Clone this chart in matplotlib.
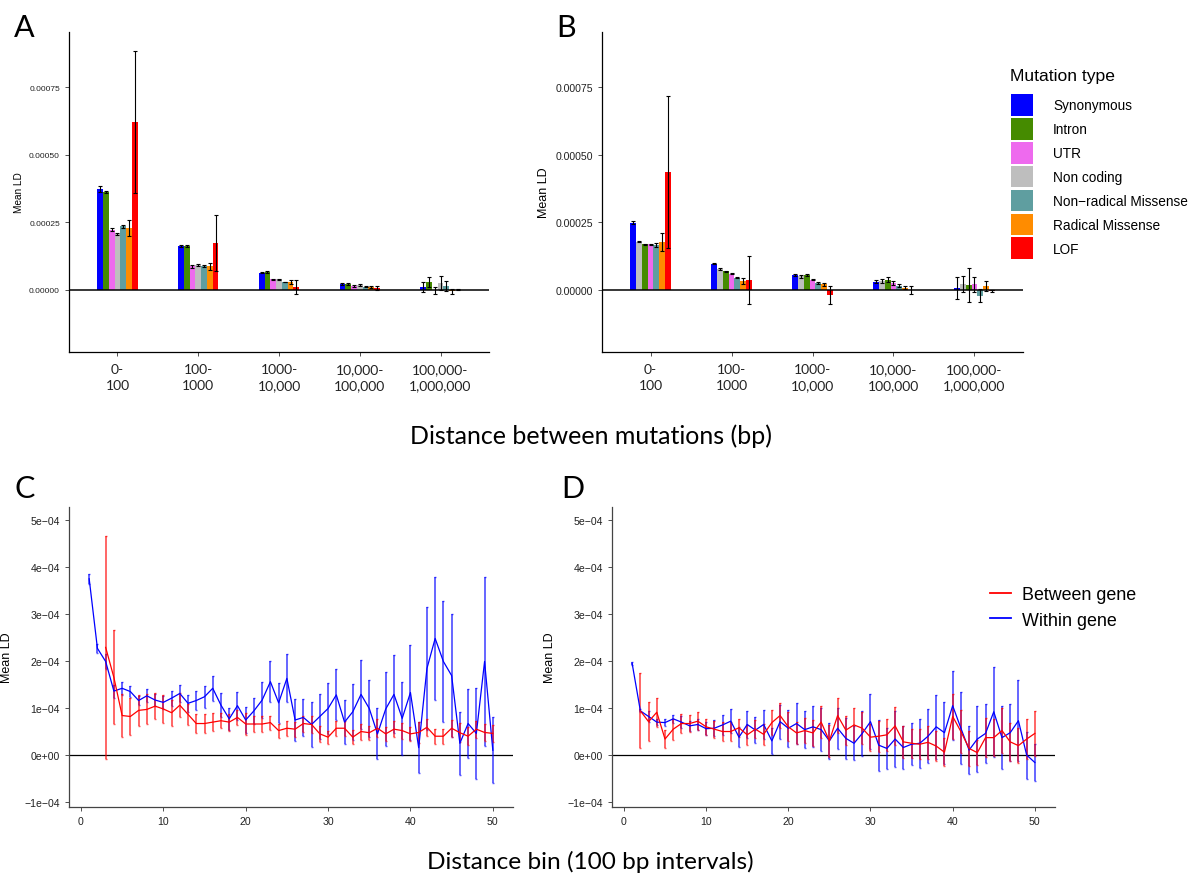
import numpy as np
import matplotlib
matplotlib.use("Agg")
import matplotlib.pyplot as plt
from matplotlib.patches import Patch
from matplotlib.lines import Line2D

# ---------------------------------------------------------------------------
# Data (mean LD)
# ---------------------------------------------------------------------------
DIST_LABELS = ["0-\n100", "100-\n1000", "1000-\n10,000", "10,000-\n100,000", "100,000-\n1,000,000"]

MUT_TYPES = ["Synonymous", "Intron", "UTR", "Non coding",
             "Non\u2212radical Missense", "Radical Missense", "LOF"]
MUT_COLORS = ["#0000FF", "#458B00", "#EE6AEE", "#BEBEBE", "#5F9EA0", "#FF8C00", "#FF0000"]

# panel A (bar order = MUT_TYPES order)
A_MEAN = {
    "Synonymous":  [3.73e-4, 1.62e-4, 0.62e-4, 0.21e-4, 0.10e-4],
    "Intron":      [3.63e-4, 1.62e-4, 0.656e-4, 0.21e-4, 0.285e-4],
    "UTR":         [2.22e-4, 0.87e-4, 0.38e-4, 0.136e-4, -0.025e-4],
    "Non coding":  [2.07e-4, 0.92e-4, 0.38e-4, 0.173e-4, 0.248e-4],
    "Non\u2212radical Missense": [2.35e-4, 0.87e-4, 0.285e-4, 0.111e-4, 0.136e-4],
    "Radical Missense": [2.29e-4, 0.87e-4, 0.285e-4, 0.099e-4, -0.062e-4],
    "LOF":         [6.21e-4, 1.73e-4, 0.099e-4, 0.062e-4, 0.0],
}
A_ERR = {
    "Synonymous":  [0.12e-4, 0.02e-4, 0.02e-4, 0.02e-4, 0.17e-4],
    "Intron":      [0.03e-4, 0.02e-4, 0.02e-4, 0.02e-4, 0.19e-4],
    "UTR":         [0.06e-4, 0.06e-4, 0.02e-4, 0.02e-4, 0.12e-4],
    "Non coding":  [0.03e-4, 0.03e-4, 0.02e-4, 0.02e-4, 0.26e-4],
    "Non\u2212radical Missense": [0.06e-4, 0.03e-4, 0.01e-4, 0.01e-4, 0.17e-4],
    "Radical Missense": [0.31e-4, 0.13e-4, 0.06e-4, 0.02e-4, 0.09e-4],
    "LOF":         [2.64e-4, 1.05e-4, 0.25e-4, 0.08e-4, 0.01e-4],
}
A_ORDER = ["Synonymous", "Intron", "UTR", "Non coding",
           "Non\u2212radical Missense", "Radical Missense", "LOF"]

# panel B
B_MEAN = {
    "Synonymous":  [2.48e-4, 0.953e-4, 0.545e-4, 0.297e-4, 0.05e-4],
    "Non coding":  [1.77e-4, 0.767e-4, 0.495e-4, 0.334e-4, 0.20e-4],
    "Intron":      [1.68e-4, 0.681e-4, 0.545e-4, 0.371e-4, 0.173e-4],
    "UTR":         [1.68e-4, 0.594e-4, 0.371e-4, 0.248e-4, 0.20e-4],
    "Non\u2212radical Missense": [1.66e-4, 0.446e-4, 0.248e-4, 0.149e-4, -0.223e-4],
    "Radical Missense": [1.76e-4, 0.309e-4, 0.198e-4, 0.074e-4, 0.124e-4],
    "LOF":         [4.36e-4, 0.359e-4, -0.186e-4, -0.012e-4, -0.05e-4],
}
B_ERR = {
    "Synonymous":  [0.06e-4, 0.02e-4, 0.02e-4, 0.05e-4, 0.41e-4],
    "Non coding":  [0.02e-4, 0.02e-4, 0.05e-4, 0.08e-4, 0.30e-4],
    "Intron":      [0.02e-4, 0.02e-4, 0.02e-4, 0.10e-4, 0.63e-4],
    "UTR":         [0.03e-4, 0.02e-4, 0.03e-4, 0.06e-4, 0.28e-4],
    "Non\u2212radical Missense": [0.08e-4, 0.02e-4, 0.02e-4, 0.05e-4, 0.24e-4],
    "Radical Missense": [0.33e-4, 0.11e-4, 0.06e-4, 0.05e-4, 0.19e-4],
    "LOF":         [2.81e-4, 0.88e-4, 0.33e-4, 0.16e-4, 0.02e-4],
}
B_ORDER = ["Synonymous", "Non coding", "Intron", "UTR",
           "Non\u2212radical Missense", "Radical Missense", "LOF"]

# panels C and D, units of 1e-4, bins 1..50
C_WITHIN = [3.75, 2.27, 1.99, 1.36, 1.42, 1.35, 1.16, 1.26, 1.17, 1.12,
            1.21, 1.31, 1.10, 1.16, 1.24, 1.42, 1.06, 0.77, 1.05, 0.745,
            0.94, 1.17, 1.56, 1.11, 1.63, 0.745, 0.80, 0.65, 0.82, 0.99,
            1.28, 0.70, 0.92, 1.29, 0.99, 0.45, 0.98, 1.29, 0.78, 1.33,
            0.156, 1.84, 2.48, 1.99, 1.69, 0.25, 0.67, 0.46, 1.99, 0.10]
C_WITHIN_SE = [0.11, 0.10, 0.15, 0.14, 0.135, 0.124, 0.106, 0.14, 0.13, 0.14,
               0.16, 0.19, 0.18, 0.21, 0.23, 0.27, 0.255, 0.23, 0.30, 0.27,
               0.28, 0.39, 0.43, 0.42, 0.51, 0.44, 0.39, 0.47, 0.47, 0.55,
               0.54, 0.47, 0.59, 0.74, 0.61, 0.54, 0.78, 0.83, 0.77, 1.02,
               0.54, 1.31, 1.30, 1.28, 1.30, 0.67, 0.74, 0.96, 1.79, 0.70]
C_BETWEEN_START = 3
C_BETWEEN = [2.29, 1.65, 0.84, 0.82, 0.95, 0.97, 1.04, 0.98, 0.90, 1.06,
             0.865, 0.67, 0.67, 0.70, 0.73, 0.70, 0.80, 0.66, 0.66, 0.66,
             0.69, 0.52, 0.57, 0.55, 0.67, 0.65, 0.45, 0.38, 0.57, 0.57,
             0.38, 0.50, 0.475, 0.57, 0.45, 0.55, 0.52, 0.45, 0.48, 0.59,
             0.40, 0.40, 0.57, 0.475, 0.40, 0.55, 0.48, 0.46]
C_BETWEEN_SE = [2.37, 1.0, 0.45, 0.39, 0.33, 0.32, 0.27, 0.29, 0.28, 0.255,
                0.22, 0.195, 0.195, 0.195, 0.16, 0.18, 0.16, 0.23, 0.16, 0.16,
                0.15, 0.15, 0.16, 0.16, 0.17, 0.18, 0.17, 0.14, 0.16, 0.16,
                0.15, 0.17, 0.145, 0.19, 0.15, 0.17, 0.17, 0.15, 0.22, 0.18,
                0.16, 0.16, 0.18, 0.20, 0.195, 0.18, 0.19, 0.18]

D_WITHIN = [1.95, 0.94, 0.82, 0.70, 0.69, 0.77, 0.70, 0.62, 0.65, 0.56,
            0.57, 0.64, 0.72, 0.38, 0.65, 0.53, 0.65, 0.30, 0.71, 0.57,
            0.67, 0.54, 0.60, 0.54, 0.30, 0.57, 0.355, 0.25, 0.46, 0.71,
            0.21, 0.14, 0.34, 0.16, 0.23, 0.25, 0.40, 0.60, 0.475, 1.05,
            0.57, 0.106, 0.34, 0.46, 0.92, 0.37, 0.475, 0.73, 0.0, -0.16]
D_WITHIN_SE = [0.03, 0.03, 0.12, 0.06, 0.08, 0.09, 0.12, 0.11, 0.12, 0.14,
               0.17, 0.21, 0.26, 0.21, 0.28, 0.27, 0.30, 0.28, 0.36, 0.39,
               0.44, 0.40, 0.44, 0.45, 0.39, 0.44, 0.43, 0.36, 0.48, 0.59,
               0.54, 0.43, 0.59, 0.46, 0.45, 0.52, 0.57, 0.68, 0.66, 0.74,
               0.77, 0.51, 0.70, 0.63, 0.96, 0.67, 0.61, 0.86, 0.50, 0.40]
D_BETWEEN_START = 2
D_BETWEEN = [0.94, 0.71, 0.91, 0.34, 0.55, 0.67, 0.67, 0.72, 0.60, 0.55,
             0.50, 0.50, 0.58, 0.43, 0.55, 0.44, 0.69, 0.84, 0.60, 0.47,
             0.52, 0.47, 0.70, 0.30, 0.84, 0.53, 0.64, 0.57, 0.38, 0.40,
             0.43, 0.62, 0.28, 0.25, 0.23, 0.27, 0.19, 0.06, 0.82, 0.50,
             0.14, 0.05, 0.37, 0.37, 0.52, 0.28, 0.20, 0.34, 0.46]
D_BETWEEN_SE = [0.80, 0.41, 0.31, 0.195, 0.22, 0.195, 0.18, 0.19, 0.17, 0.18,
                0.195, 0.195, 0.19, 0.21, 0.195, 0.22, 0.26, 0.27, 0.31, 0.23,
                0.26, 0.28, 0.34, 0.34, 0.37, 0.31, 0.35, 0.34, 0.29, 0.33,
                0.34, 0.41, 0.34, 0.31, 0.32, 0.35, 0.32, 0.30, 0.47, 0.46,
                0.37, 0.27, 0.41, 0.39, 0.48, 0.41, 0.37, 0.43, 0.48]

LINE_LABELS = ["Between gene", "Within gene"]
LINE_COLORS = ["#FF0000", "#0000FF"]

# ---------------------------------------------------------------------------
# Layout (pixel boxes of the 1193x878 canvas)
# ---------------------------------------------------------------------------
W, H = 1193, 878
ARIAL = ["Liberation Sans", "DejaVu Sans"]
CALIBRI = ["Lato", "DejaVu Sans"]


def box(left, top, right, bottom):
    return [left / W, 1 - bottom / H, (right - left) / W, (bottom - top) / H]


def fx(x):
    return x / W


def fy(y):
    return 1 - y / H


def style_axes(ax, spine_color="black"):
    for side in ("top", "right"):
        ax.spines[side].set_visible(False)
    for side in ("left", "bottom"):
        ax.spines[side].set_linewidth(0.9)
        ax.spines[side].set_color(spine_color)
    ax.tick_params(axis="both", direction="out", length=3, width=0.6,
                   colors="#333333", labelcolor="#222222")


def bar_panel(ax, means, errs, order, tick_size, ylab_size):
    n = len(order)
    width = 0.5 / n
    groups = np.arange(1, len(DIST_LABELS) + 1)
    for k, name in enumerate(order):
        color = MUT_COLORS[MUT_TYPES.index(name)]
        x = groups + (k - (n - 1) / 2) * width
        ax.bar(x, means[name], width=width, color=color, linewidth=0, zorder=2)
        ax.errorbar(x, means[name], yerr=errs[name], fmt="none",
                    ecolor="black", elinewidth=0.8, capsize=1.6,
                    capthick=0.8, zorder=3)
    ax.axhline(0, color="black", linewidth=1.1, zorder=4)
    ax.set_xlim(0.4, 5.6)
    ax.set_ylim(-0.000231, 0.000955)
    ax.set_yticks([0, 0.00025, 0.0005, 0.00075])
    ax.set_yticklabels(["0.00000", "0.00025", "0.00050", "0.00075"],
                       family=ARIAL, fontsize=tick_size)
    ax.set_xticks(groups)
    ax.set_xticklabels(DIST_LABELS, family=CALIBRI, fontsize=10,
                       linespacing=1.4)
    ax.set_ylabel("Mean LD", family=ARIAL, fontsize=ylab_size, labelpad=4)
    style_axes(ax)
    ax.tick_params(axis="x", pad=5)


def line_panel(ax, within, within_se, between, between_se, b_start):
    xw = np.arange(1, len(within) + 1)
    xb = np.arange(b_start, b_start + len(between))
    wv, ws = np.array(within) * 1e-4, np.array(within_se) * 1e-4
    bv, bs = np.array(between) * 1e-4, np.array(between_se) * 1e-4
    for x, v, s, c in ((xw, wv, ws, LINE_COLORS[1]), (xb, bv, bs, LINE_COLORS[0])):
        ax.errorbar(x, v, yerr=s, fmt="none", ecolor=c, elinewidth=1.3,
                    alpha=0.65, capsize=0.8, capthick=1.0, zorder=2)
    ax.plot(xw, wv, color=LINE_COLORS[1], linewidth=0.9, zorder=3)
    ax.plot(xb, bv, color=LINE_COLORS[0], linewidth=0.9, zorder=3)
    ax.axhline(0, color="black", linewidth=0.9, zorder=1)
    ax.set_xlim(-1.45, 52.45)
    ax.set_ylim(-1.106e-4, 5.277e-4)
    ax.set_yticks([-1e-4, 0, 1e-4, 2e-4, 3e-4, 4e-4, 5e-4])
    ax.set_yticklabels(["\u22121e\u221204", "0e+00", "1e\u221204", "2e\u221204",
                        "3e\u221204", "4e\u221204", "5e\u221204"],
                       family=ARIAL, fontsize=7.6)
    ax.set_xticks([0, 10, 20, 30, 40, 50])
    ax.set_xticklabels(["0", "10", "20", "30", "40", "50"],
                       family=ARIAL, fontsize=7.6)
    ax.set_ylabel("Mean LD", family=ARIAL, fontsize=9, labelpad=8)
    style_axes(ax, "#444444")


# ---------------------------------------------------------------------------
# Plot
# ---------------------------------------------------------------------------
fig = plt.figure(figsize=(W / 100, H / 100), dpi=100)

ax_a = fig.add_axes(box(69, 33, 489, 353))
ax_b = fig.add_axes(box(602, 33, 1023, 353))
ax_c = fig.add_axes(box(69, 508, 513, 808))
ax_d = fig.add_axes(box(612, 508, 1055, 808))

bar_panel(ax_a, A_MEAN, A_ERR, A_ORDER, tick_size=6.0, ylab_size=7.2)
bar_panel(ax_b, B_MEAN, B_ERR, B_ORDER, tick_size=7.6, ylab_size=9)

line_panel(ax_c, C_WITHIN, C_WITHIN_SE, C_BETWEEN, C_BETWEEN_SE, C_BETWEEN_START)
line_panel(ax_d, D_WITHIN, D_WITHIN_SE, D_BETWEEN, D_BETWEEN_SE, D_BETWEEN_START)

# Panel letters
for letter, x, y in (("A", 14, 28), ("B", 556, 28), ("C", 14, 489), ("D", 561, 489)):
    fig.text(fx(x), fy(y), letter, family=CALIBRI, fontsize=22,
             ha="left", va="center")

# Shared axis titles
fig.text(fx(591), fy(436), "Distance between mutations (bp)", family=CALIBRI,
         fontsize=18, ha="center", va="center")
fig.text(fx(590), fy(862), "Distance bin (100 bp intervals)", family=CALIBRI,
         fontsize=17.6, ha="center", va="center")

# Mutation type legend (title drawn separately for spacing control)
fig.text(fx(1010), fy(77), "Mutation type", family=ARIAL, fontsize=12.6,
         ha="left", va="center")
handles = [Patch(facecolor=c, edgecolor="none") for c in MUT_COLORS]
fig.legend(handles, MUT_TYPES, loc="upper left",
           bbox_to_anchor=(fx(1011), fy(95)), frameon=False,
           prop={"family": ARIAL, "size": 9.8},
           handlelength=1.6, handleheight=2.08, labelspacing=0.16,
           handletextpad=1.5, borderpad=0, borderaxespad=0)

# Between / within legend
line_handles = [Line2D([], [], color=c, linewidth=1.3) for c in LINE_COLORS]
fig.legend(line_handles, LINE_LABELS, loc="upper left",
           bbox_to_anchor=(fx(990), fy(587)), frameon=False,
           prop={"family": ARIAL, "size": 12.9},
           handlelength=1.15, handletextpad=0.65, labelspacing=0.48,
           borderpad=0, borderaxespad=0)

fig.savefig("out.png", dpi=100)
